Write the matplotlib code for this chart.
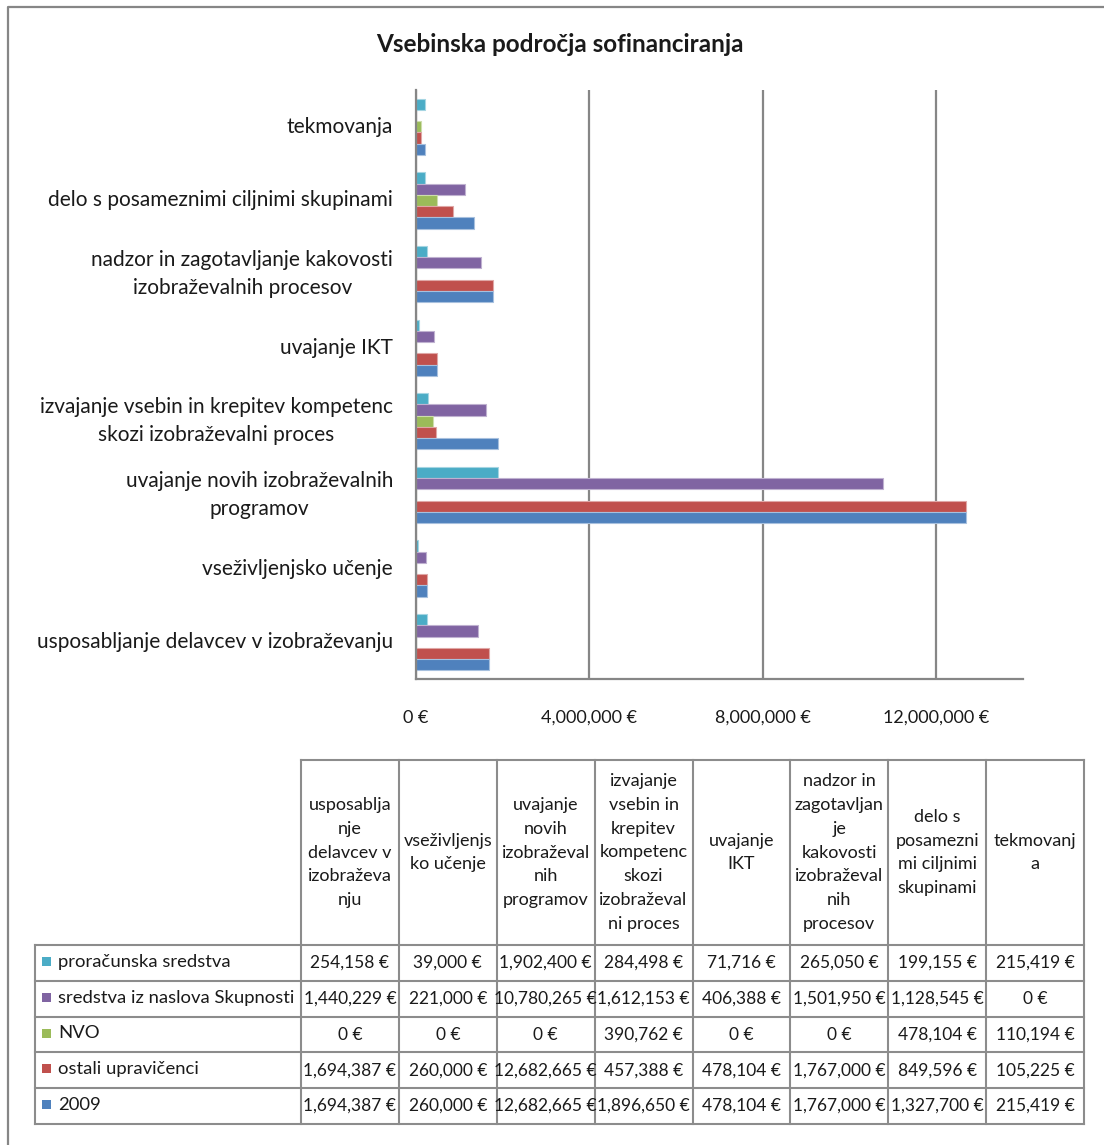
import matplotlib
matplotlib.use("Agg")
import matplotlib.pyplot as plt
from matplotlib.ticker import FuncFormatter, FixedLocator
import numpy as np

plt.rcParams['font.family'] = ['Lato', 'DejaVu Sans']

# ---------------- data ----------------
categories = [
    "usposabljanje delavcev v izobraževanju",
    "vseživljenjsko učenje",
    "uvajanje novih izobraževalnih\nprogramov",
    "izvajanje vsebin in krepitev kompetenc\nskozi izobraževalni proces",
    "uvajanje IKT",
    "nadzor in zagotavljanje kakovosti\nizobraževalnih procesov",
    "delo s posameznimi ciljnimi skupinami",
    "tekmovanja",
]
table_headers = [
    "usposablja\nnje\ndelavcev v\nizobraževa\nnju",
    "vseživljenjs\nko učenje",
    "uvajanje\nnovih\nizobraževal\nnih\nprogramov",
    "izvajanje\nvsebin in\nkrepitev\nkompetenc\nskozi\nizobraževal\nni proces",
    "uvajanje\nIKT",
    "nadzor in\nzagotavljan\nje\nkakovosti\nizobraževal\nnih\nprocesov",
    "delo s\nposamezni\nmi ciljnimi\nskupinami",
    "tekmovanj\na",
]
series_names = ["proračunska sredstva", "sredstva iz naslova Skupnosti", "NVO",
                "ostali upravičenci", "2009"]
proracunska = [254158, 39000, 1902400, 284498, 71716, 265050, 199155, 215419]
skupnosti = [1440229, 221000, 10780265, 1612153, 406388, 1501950, 1128545, 0]
nvo = [0, 0, 0, 390762, 0, 0, 478104, 110194]
ostali = [1694387, 260000, 12682665, 457388, 478104, 1767000, 849596, 105225]
leto2009 = [1694387, 260000, 12682665, 1896650, 478104, 1767000, 1327700, 215419]
series_values = [proracunska, skupnosti, nvo, ostali, leto2009]
series_colors = ["#4BACC6", "#8064A2", "#9BBB59", "#C0504D", "#4F81BD"]
series_edges = ["#A5D5E2", "#BFB1D0", "#CDDDAC", "#DFA7A6", "#A7C0DE"]
x_ticks = [0, 4000000, 8000000, 12000000]
title = "Vsebinska področja sofinanciranja"

W, H = 1104, 1145
fig = plt.figure(figsize=(W / 100, H / 100), dpi=100)
fig.patch.set_facecolor("white")

GRAY = "#868686"
TXT = "#1a1a1a"

# ---------------- chart ----------------
x0, x1, yt, yb = 416, 1023, 90, 679
ax = fig.add_axes([x0 / W, 1 - yb / H, (x1 - x0) / W, (yb - yt) / H])
ncat = len(categories)
y = np.arange(ncat)
h = 0.153
# plot order: bottom of group = 2009 ... top = proračunska
for k, (vals, col, ec) in enumerate(zip(series_values, series_colors, series_edges)):
    off = (2 - k) * h
    ax.barh(y + off, vals, height=h, color=col, edgecolor=ec, linewidth=0.8, zorder=3)

ax.set_ylim(-0.5, ncat - 0.5)
ax.set_xlim(0, 14000000)
ax.xaxis.set_major_locator(FixedLocator(x_ticks))
ax.xaxis.set_major_formatter(FuncFormatter(lambda v, p: f"{v:,.0f} €"))
ax.set_yticks(y)
ax.set_yticklabels(categories, fontsize=15, linespacing=1.5, color=TXT)
for lab in ax.get_yticklabels():
    lab.set_multialignment("center")
    lab.set_verticalalignment("center")
ax.tick_params(axis="y", length=0, pad=16.5)
ax.tick_params(axis="x", length=0, pad=22, labelsize=13, labelcolor=TXT)
ax.grid(axis="x", color=GRAY, linewidth=1.6, zorder=0)
for s in ["top", "right"]:
    ax.spines[s].set_visible(False)
for s in ["left", "bottom"]:
    ax.spines[s].set_color(GRAY)
    ax.spines[s].set_linewidth(1.6)
ax.spines["left"].set_zorder(4)

# ---------------- overlay (title, frame, table) ----------------
ov = fig.add_axes([0, 0, 1, 1], zorder=5)
ov.set_xlim(0, W)
ov.set_ylim(H, 0)
ov.axis("off")
ov.patch.set_alpha(0)

ov.text(560, 44, title, ha="center", va="center", fontsize=17.5, fontweight="bold", color=TXT)
ov.plot([8, 8, W], [H, 7, 7], color=GRAY, linewidth=1.6, solid_capstyle="butt")

col_x = np.linspace(301, 1084, len(categories) + 1)
row_y = np.linspace(945, 1124, len(series_names) + 1)
head_top = 760
lab_left = 35
lw = 1.5
tc = "#8C8C8C"
# header
ov.plot([col_x[0], col_x[-1]], [head_top, head_top], color=tc, lw=lw)
for cx in col_x:
    ov.plot([cx, cx], [head_top, row_y[-1]], color=tc, lw=lw)
for ry in row_y:
    ov.plot([lab_left, col_x[-1]], [ry, ry], color=tc, lw=lw)
ov.plot([lab_left, lab_left], [row_y[0], row_y[-1]], color=tc, lw=lw)

for i, hd in enumerate(table_headers):
    ov.text((col_x[i] + col_x[i + 1]) / 2, (head_top + row_y[0]) / 2, hd,
            ha="center", va="center", fontsize=13, linespacing=1.6, color=TXT)

for r, (name, vals, col) in enumerate(zip(series_names, series_values, series_colors)):
    cy = (row_y[r] + row_y[r + 1]) / 2
    ov.add_patch(plt.Rectangle((42, cy - 6), 9, 9, facecolor=col, edgecolor="none"))
    ov.text(58, cy - 1, name, ha="left", va="center", fontsize=13.3, color=TXT)
    for i, v in enumerate(vals):
        ov.text((col_x[i] + col_x[i + 1]) / 2, cy, f"{v:,.0f} €",
                ha="center", va="center", fontsize=12.5, color=TXT)

fig.savefig("out.png", dpi=100)
